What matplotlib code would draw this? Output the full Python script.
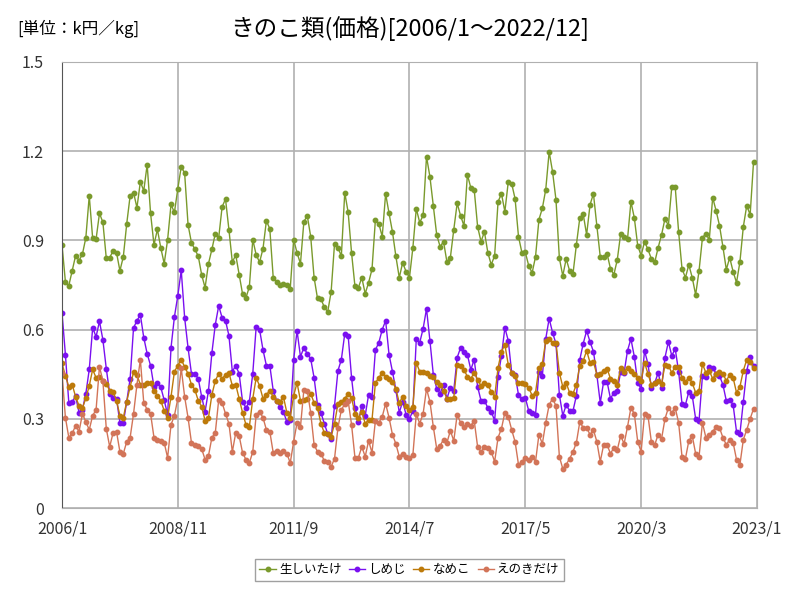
import numpy as np
import matplotlib
matplotlib.use('Agg')
import matplotlib.pyplot as plt

plt.rcParams['font.family'] = ['Noto Sans CJK JP', 'DejaVu Sans']

# monthly prices 2006/1 .. 2022/12 (k円/kg)
shiitake = [
    0.885, 0.761, 0.748, 0.798, 0.849, 0.832, 0.854, 0.909, 1.05, 0.907, 0.904, 0.991,
    0.961, 0.84, 0.842, 0.865, 0.859, 0.798, 0.845, 0.956, 1.05, 1.061, 1.01, 1.097,
    1.067, 1.155, 0.991, 0.885, 0.937, 0.875, 0.822, 0.902, 1.021, 0.994, 1.074, 1.148,
    1.126, 0.953, 0.892, 0.870, 0.847, 0.784, 0.741, 0.822, 0.870, 0.923, 0.909, 1.013,
    1.039, 0.936, 0.827, 0.851, 0.785, 0.720, 0.707, 0.744, 0.903, 0.851, 0.827, 0.872,
    0.966, 0.939, 0.775, 0.760, 0.749, 0.754, 0.749, 0.738, 0.903, 0.858, 0.822, 0.963,
    0.983, 0.913, 0.775, 0.705, 0.704, 0.675, 0.660, 0.727, 0.889, 0.876, 0.847, 1.061,
    0.994, 0.858, 0.745, 0.741, 0.775, 0.721, 0.758, 0.803, 0.970, 0.956, 0.913, 1.057,
    0.991, 0.929, 0.847, 0.775, 0.825, 0.795, 0.775, 0.876, 1.007, 0.960, 0.984, 1.182,
    1.114, 1.017, 0.918, 0.879, 0.896, 0.827, 0.842, 0.936, 1.025, 0.983, 0.949, 1.121,
    1.077, 1.071, 0.946, 0.896, 0.929, 0.859, 0.818, 0.849, 1.030, 1.057, 0.997, 1.097,
    1.091, 1.040, 0.913, 0.859, 0.860, 0.815, 0.791, 0.845, 0.970, 1.008, 1.071, 1.198,
    1.131, 1.037, 0.840, 0.781, 0.838, 0.798, 0.788, 0.886, 0.976, 0.988, 0.919, 1.020,
    1.057, 0.949, 0.845, 0.845, 0.855, 0.805, 0.785, 0.835, 0.923, 0.912, 0.904, 1.030,
    0.976, 0.882, 0.849, 0.896, 0.870, 0.838, 0.827, 0.876, 0.919, 0.973, 0.950, 1.081,
    1.081, 0.929, 0.805, 0.775, 0.818, 0.775, 0.717, 0.798, 0.909, 0.923, 0.902, 1.044,
    1.000, 0.950, 0.879, 0.802, 0.842, 0.795, 0.758, 0.828, 0.946, 1.017, 0.986, 1.165]

shimeji = [
    0.657, 0.516, 0.354, 0.358, 0.376, 0.321, 0.331, 0.385, 0.466, 0.606, 0.576, 0.628,
    0.566, 0.469, 0.385, 0.369, 0.368, 0.287, 0.287, 0.358, 0.435, 0.606, 0.630, 0.650,
    0.573, 0.519, 0.479, 0.408, 0.421, 0.406, 0.363, 0.314, 0.539, 0.643, 0.714, 0.800,
    0.640, 0.539, 0.452, 0.452, 0.435, 0.374, 0.324, 0.395, 0.522, 0.617, 0.680, 0.640,
    0.630, 0.580, 0.459, 0.479, 0.452, 0.358, 0.337, 0.358, 0.452, 0.610, 0.600, 0.532,
    0.479, 0.479, 0.395, 0.361, 0.341, 0.324, 0.290, 0.297, 0.499, 0.596, 0.509, 0.539,
    0.519, 0.502, 0.438, 0.347, 0.321, 0.284, 0.250, 0.233, 0.344, 0.462, 0.499, 0.586,
    0.580, 0.438, 0.337, 0.290, 0.344, 0.311, 0.381, 0.374, 0.532, 0.556, 0.600, 0.630,
    0.516, 0.459, 0.398, 0.321, 0.358, 0.314, 0.300, 0.327, 0.569, 0.556, 0.603, 0.670,
    0.563, 0.448, 0.401, 0.385, 0.415, 0.368, 0.405, 0.395, 0.506, 0.539, 0.526, 0.516,
    0.465, 0.499, 0.408, 0.361, 0.361, 0.337, 0.324, 0.294, 0.442, 0.512, 0.606, 0.563,
    0.455, 0.448, 0.381, 0.368, 0.371, 0.327, 0.321, 0.314, 0.459, 0.445, 0.569, 0.637,
    0.590, 0.553, 0.381, 0.311, 0.347, 0.327, 0.327, 0.378, 0.499, 0.553, 0.596, 0.559,
    0.526, 0.448, 0.354, 0.425, 0.425, 0.368, 0.388, 0.395, 0.459, 0.455, 0.529, 0.569,
    0.509, 0.421, 0.401, 0.529, 0.485, 0.405, 0.421, 0.455, 0.405, 0.506, 0.559, 0.512,
    0.536, 0.459, 0.351, 0.347, 0.391, 0.378, 0.300, 0.294, 0.445, 0.442, 0.475, 0.472,
    0.452, 0.445, 0.415, 0.361, 0.364, 0.347, 0.257, 0.250, 0.358, 0.462, 0.509, 0.479]

nameko = [
    0.487, 0.444, 0.408, 0.415, 0.374, 0.344, 0.337, 0.369, 0.411, 0.466, 0.438, 0.442,
    0.428, 0.418, 0.395, 0.391, 0.361, 0.311, 0.304, 0.358, 0.408, 0.457, 0.447, 0.415,
    0.415, 0.421, 0.421, 0.395, 0.378, 0.361, 0.327, 0.304, 0.374, 0.459, 0.479, 0.499,
    0.475, 0.452, 0.415, 0.398, 0.361, 0.341, 0.294, 0.304, 0.381, 0.428, 0.452, 0.435,
    0.448, 0.455, 0.411, 0.415, 0.368, 0.321, 0.280, 0.273, 0.368, 0.438, 0.411, 0.368,
    0.381, 0.395, 0.374, 0.361, 0.358, 0.374, 0.321, 0.304, 0.378, 0.421, 0.361, 0.364,
    0.368, 0.385, 0.354, 0.337, 0.284, 0.253, 0.250, 0.240, 0.284, 0.351, 0.358, 0.368,
    0.385, 0.371, 0.317, 0.304, 0.324, 0.284, 0.297, 0.297, 0.421, 0.438, 0.455, 0.442,
    0.435, 0.425, 0.401, 0.354, 0.374, 0.344, 0.331, 0.341, 0.489, 0.459, 0.459, 0.455,
    0.445, 0.442, 0.425, 0.415, 0.395, 0.368, 0.368, 0.371, 0.482, 0.479, 0.465, 0.442,
    0.435, 0.455, 0.432, 0.411, 0.421, 0.415, 0.391, 0.374, 0.472, 0.526, 0.549, 0.482,
    0.455, 0.445, 0.421, 0.421, 0.418, 0.405, 0.378, 0.388, 0.472, 0.485, 0.563, 0.569,
    0.556, 0.556, 0.455, 0.408, 0.421, 0.388, 0.385, 0.415, 0.479, 0.495, 0.529, 0.489,
    0.492, 0.448, 0.452, 0.462, 0.469, 0.435, 0.428, 0.415, 0.472, 0.459, 0.472, 0.462,
    0.452, 0.438, 0.428, 0.489, 0.452, 0.415, 0.421, 0.428, 0.417, 0.482, 0.479, 0.455,
    0.475, 0.475, 0.438, 0.425, 0.438, 0.421, 0.388, 0.395, 0.485, 0.455, 0.462, 0.435,
    0.452, 0.459, 0.452, 0.428, 0.448, 0.438, 0.388, 0.408, 0.462, 0.499, 0.492, 0.472]

enoki = [
    0.455, 0.304, 0.237, 0.251, 0.277, 0.257, 0.317, 0.290, 0.263, 0.311, 0.330, 0.475,
    0.428, 0.267, 0.206, 0.253, 0.257, 0.189, 0.183, 0.223, 0.237, 0.317, 0.415, 0.499,
    0.354, 0.331, 0.317, 0.237, 0.230, 0.226, 0.220, 0.169, 0.280, 0.311, 0.368, 0.470,
    0.374, 0.304, 0.220, 0.213, 0.210, 0.199, 0.163, 0.176, 0.237, 0.253, 0.364, 0.354,
    0.317, 0.284, 0.189, 0.253, 0.243, 0.186, 0.163, 0.152, 0.189, 0.314, 0.324, 0.304,
    0.263, 0.257, 0.186, 0.193, 0.186, 0.193, 0.183, 0.152, 0.223, 0.287, 0.273, 0.398,
    0.395, 0.321, 0.213, 0.189, 0.183, 0.159, 0.156, 0.139, 0.166, 0.270, 0.330, 0.350,
    0.360, 0.280, 0.169, 0.169, 0.206, 0.173, 0.226, 0.186, 0.294, 0.287, 0.307, 0.351,
    0.304, 0.247, 0.216, 0.173, 0.183, 0.173, 0.169, 0.179, 0.317, 0.284, 0.317, 0.401,
    0.358, 0.273, 0.199, 0.210, 0.230, 0.220, 0.260, 0.226, 0.314, 0.287, 0.273, 0.284,
    0.277, 0.294, 0.206, 0.189, 0.206, 0.203, 0.189, 0.156, 0.237, 0.267, 0.321, 0.307,
    0.263, 0.223, 0.146, 0.156, 0.169, 0.163, 0.173, 0.156, 0.247, 0.216, 0.287, 0.347,
    0.368, 0.344, 0.173, 0.132, 0.146, 0.166, 0.189, 0.220, 0.290, 0.270, 0.270, 0.247,
    0.263, 0.223, 0.156, 0.213, 0.213, 0.183, 0.203, 0.196, 0.243, 0.216, 0.273, 0.337,
    0.317, 0.223, 0.189, 0.317, 0.311, 0.223, 0.213, 0.247, 0.233, 0.300, 0.337, 0.321,
    0.337, 0.287, 0.173, 0.166, 0.226, 0.243, 0.183, 0.173, 0.287, 0.237, 0.247, 0.257,
    0.273, 0.270, 0.237, 0.213, 0.230, 0.220, 0.163, 0.146, 0.230, 0.263, 0.300, 0.334]

names = ['生しいたけ', 'しめじ', 'なめこ', 'えのきだけ']
colors = ['#7a9a2c', '#7a10f0', '#bd7a0a', '#d27458']
tick_labels = ['2006/1', '2008/11', '2011/9', '2014/7', '2017/5', '2020/3', '2023/1']

fig = plt.figure(figsize=(8, 6), dpi=100)
ax = fig.add_axes([0.0775, 0.1533, 0.8687, 0.7434])

months = np.arange(len(shiitake))
for vals, name, c in zip([shiitake, shimeji, nameko, enoki], names, colors):
    ax.plot(months, vals, color=c, lw=1.0, marker='o', markersize=3.2, label=name)

ax.set_xlim(0, 204)
ax.set_ylim(0, 1.5)
ax.set_xticks(np.arange(0, 205, 34))
ax.set_xticklabels(tick_labels)
ax.set_yticks([0, 0.3, 0.6, 0.9, 1.2, 1.5])
ax.set_yticklabels(['0', '0.3', '0.6', '0.9', '1.2', '1.5'])
ax.tick_params(labelsize=11.5, length=0, colors='#333333')
ax.tick_params(axis='x', pad=9)
ax.tick_params(axis='y', pad=13)
ax.grid(True, color='#b0b0b0', lw=1.2)
for s in ['top', 'right', 'bottom']:
    ax.spines[s].set_color('#b0b0b0')
ax.spines['left'].set_color('#555555')

fig.text(0.512, 0.953, 'きのこ類(価格)[2006/1～2022/12]', ha='center', va='center', fontsize=17)
fig.text(0.022, 0.952, '[単位：k円／kg]', ha='left', va='center', fontsize=12)

ax.legend(loc='upper center', bbox_to_anchor=(0.5, -0.1), ncol=4, fontsize=9,
          frameon=True, fancybox=False, edgecolor='#888888', handlelength=1.3,
          columnspacing=0.6, handletextpad=0.25, borderpad=0.35)

fig.savefig('out.png', dpi=100)
